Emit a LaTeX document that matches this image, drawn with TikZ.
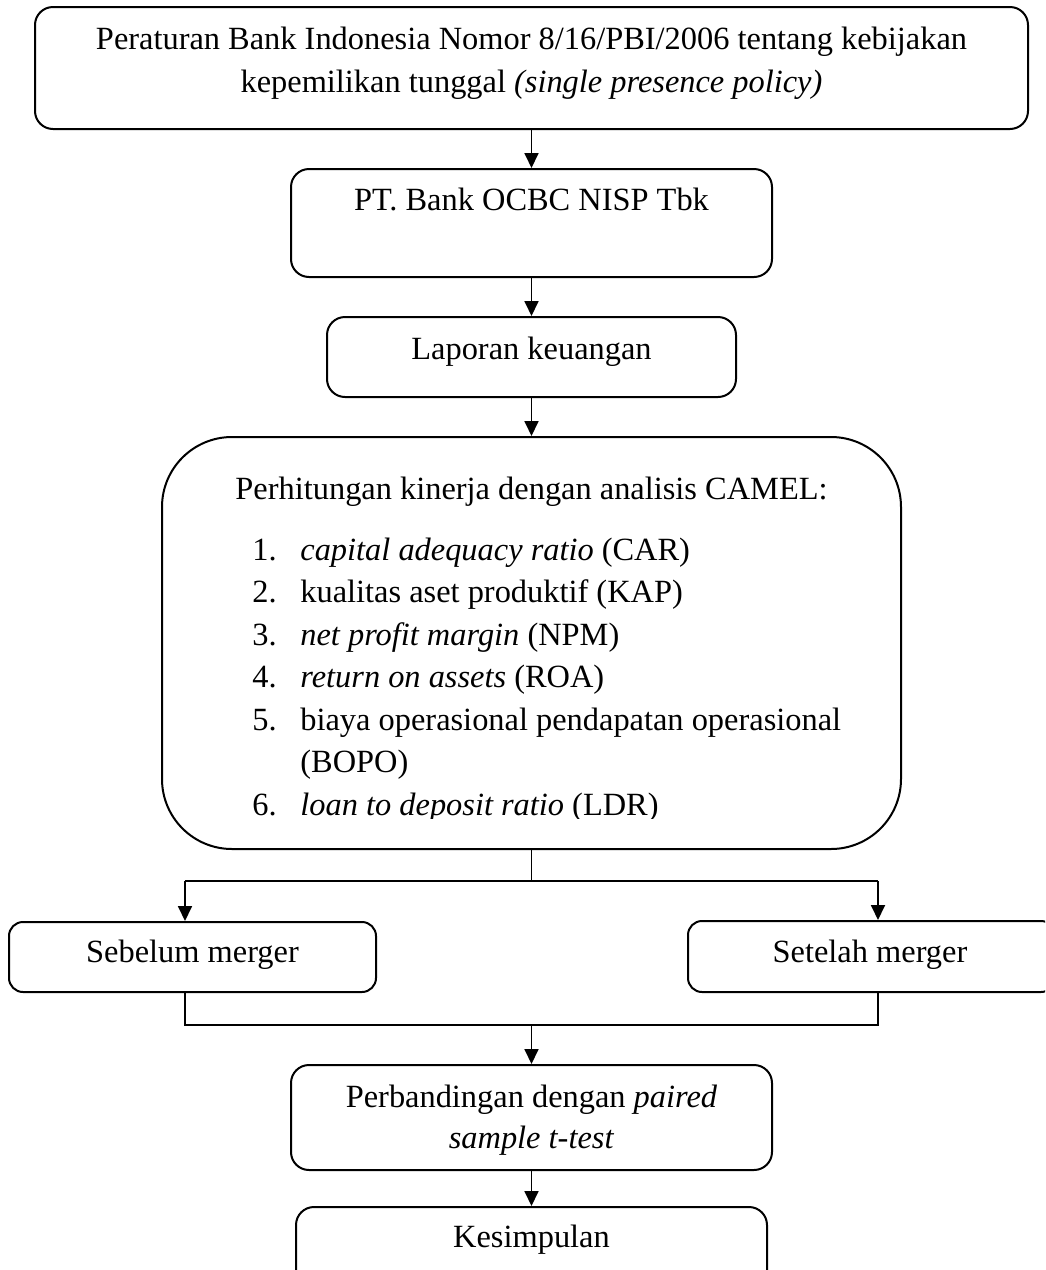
\documentclass[tikz,border=0pt]{standalone}
\usepackage{fontspec}
\setmainfont{Liberation Serif}
\usetikzlibrary{arrows.meta,fit}
\begin{document}
\begin{tikzpicture}[x=0.5pt,y=-0.5pt,
  box/.style={draw, line width=1pt, rounded corners=9pt, inner sep=0pt},
  txt/.style={inner sep=0pt, text height=10.5pt, text depth=3.5pt, font=\fontsize{16.2}{21}\selectfont},
  conn/.style={line width=0.9pt},
  arr/.style={conn, -{Triangle[length=7.5pt,width=7pt]}}]
\clip (0,0) rectangle (1045,1270);
% boxes
\node[box, fit={(35,7) (1028,129)}] (b1) {};
\node[txt] (t1a) at (531.5,42.5) {Peraturan Bank Indonesia Nomor 8/16/PBI/2006 tentang kebijakan};
\node[txt] (t1b) at (531.5,85) {kepemilikan tunggal \textit{(single presence policy)}};
\node[box, fit={(291,169) (772,277)}] (b2) {};
\node[txt] (t2) at (531.5,203) {PT. Bank OCBC NISP Tbk};
\node[box, fit={(327,317) (736,397)}] (b3) {};
\node[txt] (t3) at (531.5,352) {Laporan keuangan};
\node[box, rounded corners=35pt, fit={(162,437) (901,849)}] (b4) {};
\node[txt] (t4) at (531.5,492) {Perhitungan kinerja dengan analisis CAMEL:};
\begin{scope}
\clip (164,437) rectangle (900,818);
\node[txt, anchor=west] (n1) at (252,553) {1.};
\node[txt, anchor=west] (i1) at (300,553) {\textit{capital adequacy ratio} (CAR)};
\node[txt, anchor=west] (n2) at (252,595.5) {2.};
\node[txt, anchor=west] (i2) at (300,595.5) {kualitas aset produktif (KAP)};
\node[txt, anchor=west] (n3) at (252,638) {3.};
\node[txt, anchor=west] (i3) at (300,638) {\textit{net profit margin} (NPM)};
\node[txt, anchor=west] (n4) at (252,680.5) {4.};
\node[txt, anchor=west] (i4) at (300,680.5) {\textit{return on assets} (ROA)};
\node[txt, anchor=west] (n5) at (252,723) {5.};
\node[txt, anchor=west] (i5) at (300,723) {biaya operasional pendapatan operasional};
\node[txt, anchor=west] (i5b) at (300,765.5) {(BOPO)};
\node[txt, anchor=west] (n6) at (252,808) {6.};
\node[txt, anchor=west] (i6) at (300,808) {\textit{loan to deposit ratio} (LDR)};
\end{scope}
\node[box, rounded corners=7pt, fit={(9,922) (376,992)}] (bsb) {};
\node[txt] (tsb) at (192.5,955) {Sebelum merger};
\node[box, rounded corners=7pt, fit={(688,921) (1055,992)}] (bst) {};
\node[txt] (tst) at (870,955) {Setelah merger};
\node[box, fit={(291,1065) (772,1170)}] (b5) {};
\node[txt] (t5a) at (531.5,1100) {Perbandingan dengan \textit{paired}};
\node[txt] (t5b) at (531.5,1141) {\textit{sample t-test}};
\node[box, fit={(296,1207) (767,1300)}] (b6) {};
\node[txt] (t6) at (531.5,1240) {Kesimpulan};
% connectors
\coordinate (jl) at (185,881);
\coordinate (jr) at (878,881);
\coordinate (kl) at (185,1025);
\coordinate (kr) at (878,1025);
\draw[arr] (b1.south) -- (b2.north);
\draw[arr] (b2.south) -- (b3.north);
\draw[arr] (b3.south) -- (b4.north);
\draw[conn] (b4.south) -- (b4.south |- jl);
\draw[conn] (jl) -- (jr);
\draw[arr] (jl) -- (jl |- bsb.north);
\draw[arr] (jr) -- (jr |- bst.north);
\draw[conn] (kl |- bsb.south) -- (kl) -- (kr) -- (kr |- bst.south);
\draw[arr] (b5.north |- kl) -- (b5.north);
\draw[arr] (b5.south) -- (b6.north);
\end{tikzpicture}
\end{document}
